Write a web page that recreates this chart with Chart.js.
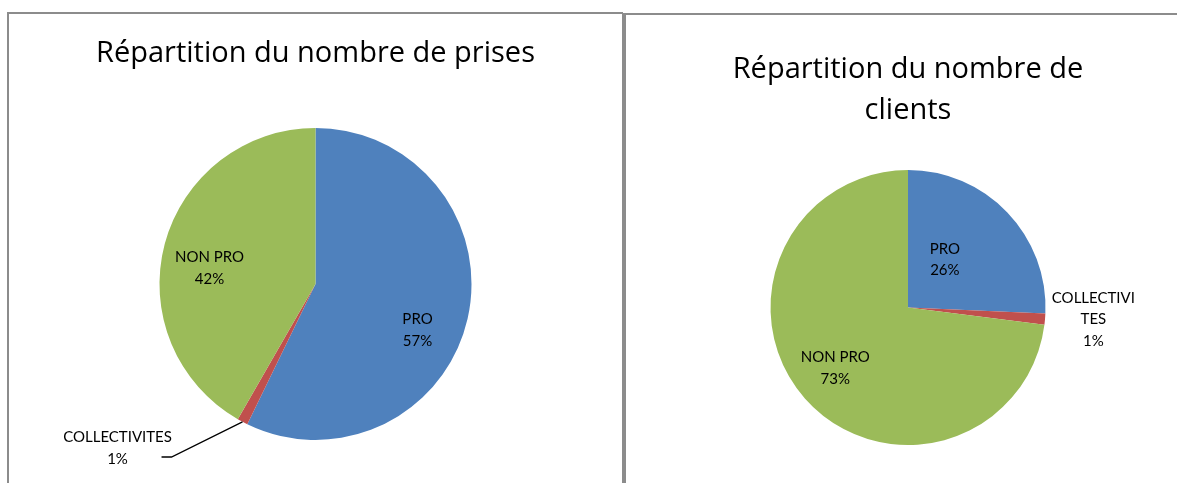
<!DOCTYPE html>
<html>
<head>
<meta charset="utf-8">
<script src="https://cdn.jsdelivr.net/npm/chart.js@4.4.1/dist/chart.umd.min.js"></script>
<style>
  body { margin: 0; background: #fff; width: 1177px; height: 483px; overflow: hidden; position: relative; }
  .panel { position: absolute; border-top: 2px solid #8c8c8c; border-left: 2px solid #8c8c8c; }
  #leftPanel { left: 7px; top: 12px; width: 614px; height: 480px; }
  #rightPanel { left: 622px; top: 13px; width: 551px; height: 480px; border-left-width: 4px; }
  canvas { position: absolute; }
</style>
</head>
<body>
<div class="panel" id="leftPanel"><canvas id="prisesChart" width="613" height="469"></canvas></div>
<div class="panel" id="rightPanel"><canvas id="clientsChart" width="551" height="469"></canvas></div>
<script>
// categories shared by both pies
var categories = ["PRO", "COLLECTIVITES", "NON PRO"];
var colours = ["#4F81BD", "#C0504D", "#9BBB59"];

// share of "prises" (%)
var prisesValues = [57.2, 1.1, 41.7];
// share of "clients" (%)
var clientsValues = [25.7, 1.3, 73.0];

var prisesTitle = "Répartition du nombre de prises";
var clientsTitle = ["Répartition du nombre de", "clients"];

// how each label is written on the right chart (text wraps there)
var clientsLabelLines = [["PRO"], ["COLLECTIVI", "TES"], ["NON PRO"]];

// label anchors, in units of the pie radius from the centre
var prisesLabelPos = [[0.654, 0.295], [-1.269, 1.051], [-0.679, -0.103]];
var clientsLabelPos = [[0.268, -0.348], [1.348, 0.087], [-0.529, 0.442]];

// pie labels drawn after the slices
var pieLabels = {
  id: "pieLabels",
  afterDatasetsDraw: function (chart, args, opts) {
    var ctx = chart.ctx;
    var meta = chart.getDatasetMeta(0);
    var values = chart.data.datasets[0].data;
    ctx.save();
    ctx.font = "15px Lato, sans-serif";
    ctx.fillStyle = "#000";
    ctx.textAlign = "center";
    ctx.textBaseline = "middle";
    meta.data.forEach(function (arc, i) {
      var r = arc.outerRadius;
      var cx = arc.x + opts.pos[i][0] * r;
      var cy = arc.y + opts.pos[i][1] * r;
      var lines = opts.lines[i].concat([Math.round(values[i]) + "%"]);
      var lh = 21.5;
      var y0 = cy - (lines.length - 1) * lh / 2;
      lines.forEach(function (t, k) {
        ctx.fillText(t, cx, y0 + k * lh);
      });
      // leader line for small slice on the left chart
      if (opts.leader && opts.leader[i]) {
        var mid = (arc.startAngle + arc.endAngle) / 2;
        ctx.beginPath();
        ctx.strokeStyle = "#000";
        ctx.lineWidth = 1.3;
        ctx.moveTo(arc.x + Math.cos(mid) * r, arc.y + Math.sin(mid) * r);
        ctx.lineTo(arc.x + opts.leader[i][0] * r, arc.y + opts.leader[i][1] * r);
        ctx.lineTo(arc.x + opts.leader[i][2] * r, arc.y + opts.leader[i][1] * r);
        ctx.stroke();
      }
    });
    ctx.restore();
  }
};

function makePie(id, values, title, titlePad, layoutPad, labelOpts) {
  return new Chart(document.getElementById(id).getContext("2d"), {
    type: "pie",
    data: {
      labels: categories,
      datasets: [{
        data: values,
        backgroundColor: colours,
        borderWidth: 0,
        hoverOffset: 0,
        offset: 0
      }]
    },
    options: {
      responsive: false,
      animation: false,
      layout: { padding: layoutPad },
      plugins: {
        legend: { display: false },
        tooltip: { enabled: false },
        title: {
          display: true,
          text: title,
          color: "#000",
          font: { family: "'Open Sans', sans-serif", size: 29, weight: "normal", lineHeight: titlePad.lh },
          padding: { top: titlePad.top, bottom: titlePad.bottom }
        },
        pieLabels: labelOpts
      }
    },
    plugins: [pieLabels]
  });
}

makePie("prisesChart", prisesValues, prisesTitle,
  { lh: 34 / 29, top: 23, bottom: 57 },
  { top: 0, bottom: 43, left: 0, right: 0 },
  { pos: prisesLabelPos, lines: [["PRO"], ["COLLECTIVITES"], ["NON PRO"]],
    leader: [null, [-0.923, 1.109, -0.987], null] });

makePie("clientsChart", clientsValues, clientsTitle,
  { lh: 41 / 29, top: 34, bottom: 39 },
  { top: 0, bottom: 39, left: 13, right: 0 },
  { pos: clientsLabelPos, lines: clientsLabelLines });
</script>
</body>
</html>
